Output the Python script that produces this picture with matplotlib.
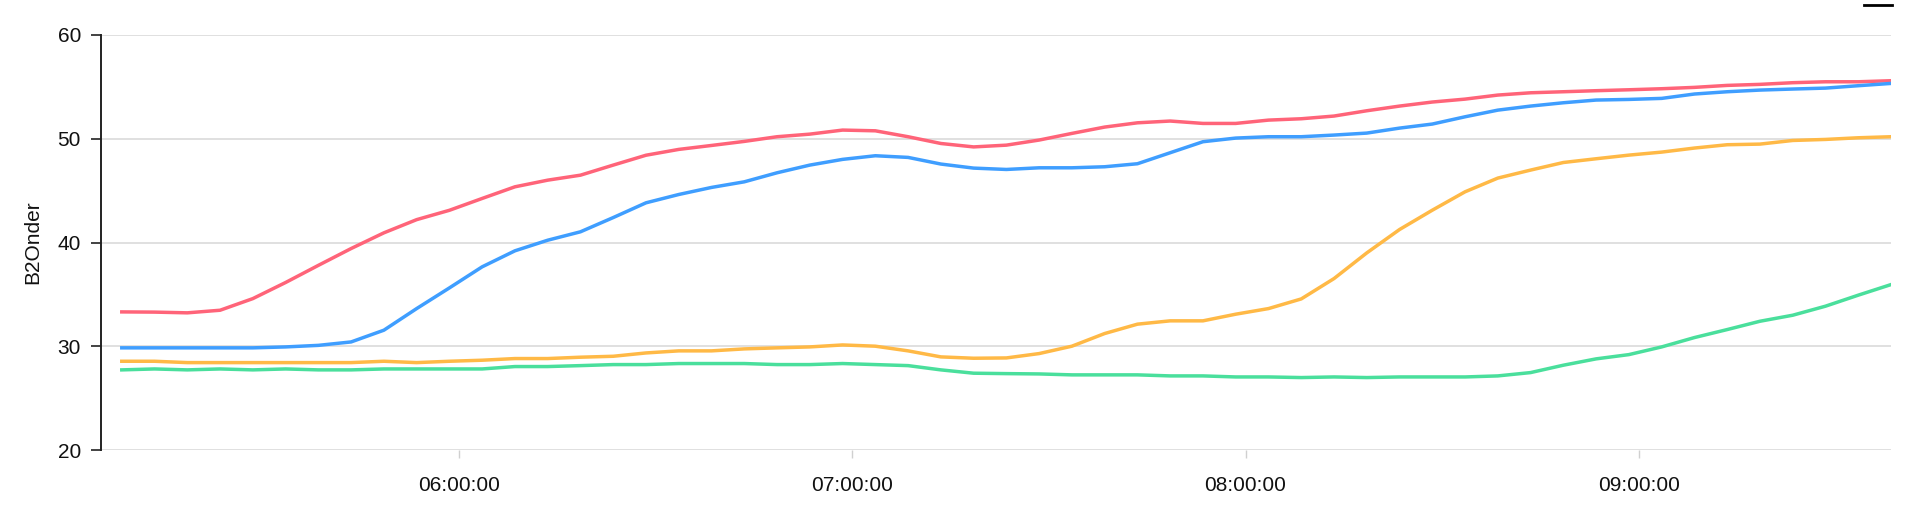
import matplotlib
matplotlib.use("Agg")
import matplotlib.pyplot as plt
import matplotlib.dates as mdates
from matplotlib.lines import Line2D
import pandas as pd

plt.rcParams['font.family'] = ['Liberation Sans', 'DejaVu Sans']

start_time = "2024-01-01 05:08:30"
n_points = 55
times = pd.date_range(start_time, periods=n_points, freq="5min")

series_names = ["red", "blue", "orange", "green"]
series_colors = ["#FF6479", "#3F9EFF", "#FFB946", "#4ADF9C"]

red = [33.32, 33.3, 33.23, 33.48, 34.6, 36.15, 37.8, 39.42, 40.93, 42.2,
       43.1, 44.24, 45.36, 46.0, 46.48, 47.45, 48.4, 48.96, 49.34, 49.73,
       50.18, 50.43, 50.82, 50.75, 50.18, 49.53, 49.2, 49.37, 49.86, 50.5,
       51.11, 51.52, 51.69, 51.46, 51.46, 51.78, 51.91, 52.17, 52.68, 53.13,
       53.52, 53.8, 54.19, 54.41, 54.51, 54.61, 54.7, 54.8, 54.93, 55.12,
       55.22, 55.38, 55.47, 55.47, 55.57]
blue = [29.86, 29.86, 29.86, 29.86, 29.86, 29.95, 30.1, 30.43, 31.56, 33.64,
        35.63, 37.66, 39.2, 40.22, 41.03, 42.4, 43.82, 44.62, 45.3, 45.84,
        46.71, 47.45, 48.0, 48.35, 48.19, 47.55, 47.16, 47.03, 47.19, 47.19,
        47.29, 47.58, 48.64, 49.7, 50.05, 50.18, 50.18, 50.34, 50.53, 51.01,
        51.4, 52.1, 52.74, 53.13, 53.45, 53.71, 53.77, 53.87, 54.29, 54.51,
        54.67, 54.77, 54.86, 55.09, 55.31]
orange = [28.57, 28.57, 28.44, 28.44, 28.44, 28.44, 28.44, 28.44, 28.57, 28.44,
          28.57, 28.67, 28.83, 28.83, 28.96, 29.05, 29.37, 29.57, 29.57, 29.76,
          29.86, 29.95, 30.14, 30.02, 29.57, 28.99, 28.86, 28.89, 29.31, 30.02,
          31.24, 32.14, 32.46, 32.46, 33.1, 33.64, 34.57, 36.53, 39.0, 41.25,
          43.11, 44.88, 46.2, 46.97, 47.7, 48.06, 48.41, 48.7, 49.09, 49.41,
          49.47, 49.82, 49.92, 50.08, 50.18]
green = [27.74, 27.83, 27.74, 27.83, 27.74, 27.83, 27.74, 27.74, 27.83, 27.83,
         27.83, 27.83, 28.06, 28.06, 28.15, 28.25, 28.25, 28.35, 28.35, 28.35,
         28.25, 28.25, 28.35, 28.25, 28.15, 27.74, 27.42, 27.38, 27.35, 27.26,
         27.26, 27.26, 27.16, 27.16, 27.06, 27.06, 27.0, 27.06, 27.0, 27.06,
         27.06, 27.06, 27.16, 27.48, 28.19, 28.8, 29.21, 29.95, 30.85, 31.62,
         32.42, 33.0, 33.87, 34.93, 35.95]

y_label = "B2Onder"
y_ticks = [20, 30, 40, 50, 60]
x_tick_times = ["2024-01-01 06:00:00", "2024-01-01 07:00:00",
                "2024-01-01 08:00:00", "2024-01-01 09:00:00"]
x_start = "2024-01-01 05:05:17"

W, H = 1920, 532
fig = plt.figure(figsize=(W / 100, H / 100), dpi=100)
left_px, right_px, top_px, bottom_px = 100.7, 1891, 34.7, 450.3
ax = fig.add_axes([left_px / W, 1 - bottom_px / H,
                   (right_px - left_px) / W, (bottom_px - top_px) / H])

for vals, col in zip([red, blue, orange, green], series_colors):
    ax.plot(times, vals, color=col, lw=2.5, solid_joinstyle='round', zorder=3)

ax.set_ylim(20, 60)
ax.set_xlim(pd.Timestamp(x_start), times[-1])
ax.set_yticks(y_ticks)
ax.set_xticks(pd.to_datetime(x_tick_times))
ax.xaxis.set_major_formatter(mdates.DateFormatter("%H:%M:%S"))

ax.grid(axis='y', color='#dddddd', lw=1.3, zorder=0)
ax.set_axisbelow(True)
for s in ['top', 'right', 'bottom']:
    ax.spines[s].set_visible(False)
ax.spines['left'].set_color('#222222')
ax.spines['left'].set_linewidth(1.4)

ax.tick_params(axis='y', length=7.2, width=1.2, color='#222222', pad=7,
               labelsize=15, labelcolor='#111111')
ax.tick_params(axis='x', length=5.8, width=1.0, color='#d0d0d0', pad=12.5,
               labelsize=15, labelcolor='#111111')
ax.set_ylabel(y_label, fontsize=15, color='#111111', labelpad=11)

# small black dash at the top right corner
fig.add_artist(Line2D([1864 / W, 1892 / W], [1 - 4.7 / H, 1 - 4.7 / H],
                      color='black', lw=2.0, transform=fig.transFigure))

fig.savefig("out.png", dpi=100)
